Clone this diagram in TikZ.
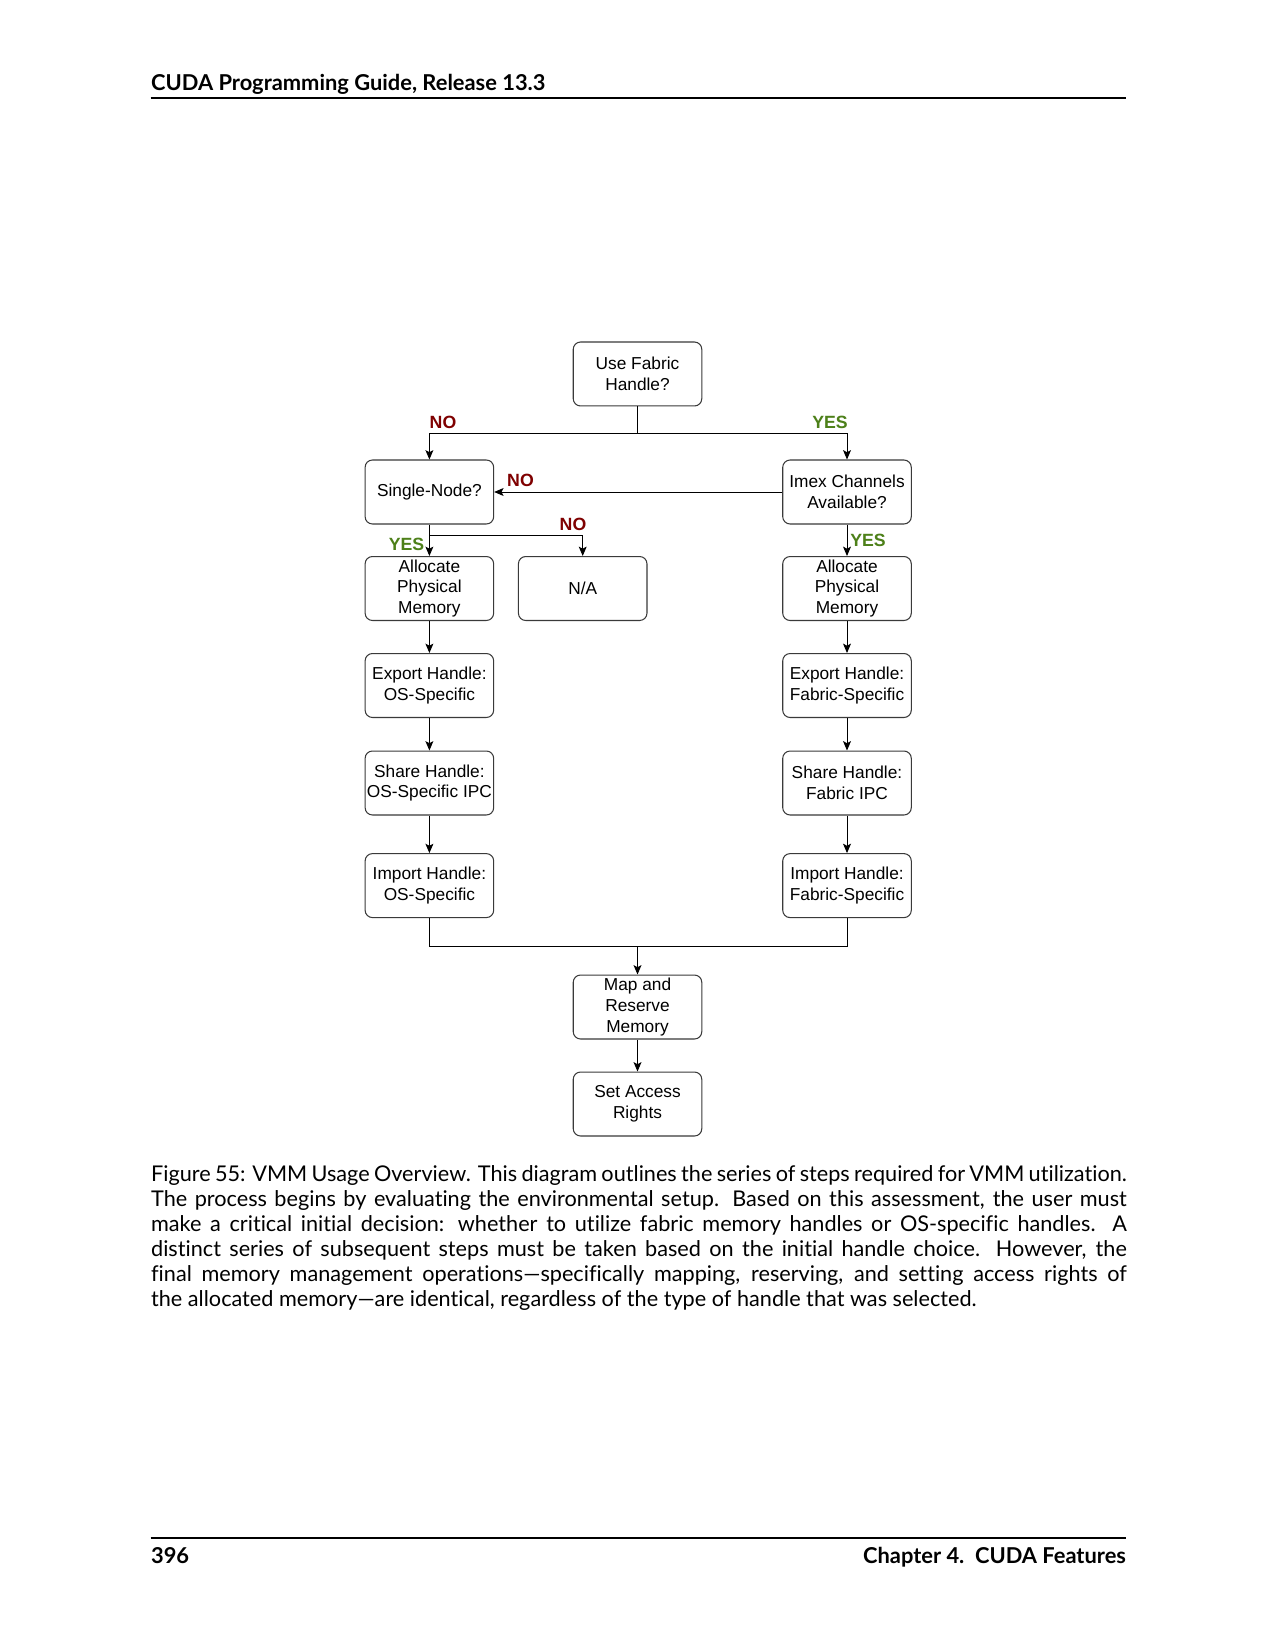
\documentclass[tikz,border=0pt]{standalone}
\usepackage{fontspec}
\setmainfont{Lato}[Ligatures={NoCommon,NoRare}]
\newfontfamily\diagfont{Liberation Sans}
\usetikzlibrary{arrows.meta}
\definecolor{nored}{HTML}{7F0000}
\definecolor{yesgreen}{HTML}{4D8019}
\definecolor{boxline}{HTML}{3A3A3A}
\newcommand\capline[1]{\hbox to 468.3pt{#1}}
\begin{document}
\begin{tikzpicture}[x=0.48pt,y=-0.48pt,
  box/.style={draw=boxline, line width=0.5pt, rounded corners=3.5pt, minimum width=61.7pt, minimum height=30.7pt, inner sep=0pt, align=center, font=\diagfont\fontsize{8.3}{9.9}\selectfont},
  conn/.style={draw=black, line width=0.45pt},
  arr/.style={conn, -{Stealth[length=4.5pt,width=3.8pt,inset=1pt]}},
  nolab/.style={font=\diagfont\bfseries\fontsize{8.5}{10}\selectfont, text=nored, inner sep=0pt},
  yeslab/.style={font=\diagfont\bfseries\fontsize{8.5}{10}\selectfont, text=yesgreen, inner sep=0pt},
  captext/.style={anchor=base west, inner sep=0pt, font=\fontsize{10.4}{12}\selectfont},
  pagetext/.style={inner sep=0pt, font=\bfseries\fontsize{10.5}{12}\selectfont}]
\useasboundingbox[fill=white] (0,0) rectangle (1275,1650);

% header and footer
\node[pagetext, anchor=base west] (hdr) at (150.7,90.8) {CUDA Programming Guide, Release 13.3};
\draw[line width=0.7pt] (150.7,98) coordinate (hl) -- (1126.4,98) coordinate (hr);
\draw[line width=0.7pt] (150.7,1538) coordinate (fl) -- (1126.4,1538) coordinate (fr);
\node[pagetext, anchor=base west] (pnum) at (150.7,1563.5) {396};
\node[pagetext, anchor=base east] (chap) at (1126.4,1563.5) {Chapter 4.\ \ CUDA Features};

% boxes
\node[box] (fab) at (637.5,374) {Use Fabric\\Handle?};
\node[box] (single) at (429.4,492) {Single-Node?};
\node[box] (imex) at (847,492) {Imex Channels\\Available?};
\node[box] (allocL) at (429.4,588.5) {Allocate\\Physical\\Memory};
\node[box] (na) at (582.7,588.5) {N/A};
\node[box] (allocR) at (847,588.5) {Allocate\\Physical\\Memory};
\node[box] (expL) at (429.4,685.5) {Export Handle:\\OS-Specific};
\node[box] (expR) at (847,685.5) {Export Handle:\\Fabric-Specific};
\node[box] (shareL) at (429.4,783) {Share Handle:\\OS-Specific IPC};
\node[box] (shareR) at (847,783) {Share Handle:\\Fabric IPC};
\node[box] (impL) at (429.4,885.6) {Import Handle:\\OS-Specific};
\node[box] (impR) at (847,885.6) {Import Handle:\\Fabric-Specific};
\node[box] (map) at (637.5,1007) {Map and\\Reserve\\Memory};
\node[box] (set) at (637.5,1104) {Set Access\\Rights};

% connectors
\coordinate (s1) at (637.5,433);
\draw[conn] (fab.south) -- (s1);
\draw[arr] (s1) -| (single.north);
\draw[arr] (s1) -| (imex.north);
\draw[arr] (imex.west) -- (single.east);
\coordinate (s2) at (429.4,535.3);
\draw[arr] (single.south) -- (allocL.north);
\draw[arr] (s2) -| (na.north);
\draw[arr] (imex.south) -- (allocR.north);
\draw[arr] (allocL) -- (expL);
\draw[arr] (expL) -- (shareL);
\draw[arr] (shareL) -- (impL);
\draw[arr] (allocR) -- (expR);
\draw[arr] (expR) -- (shareR);
\draw[arr] (shareR) -- (impR);
\coordinate (m1) at (637.5,946);
\draw[conn] (impL.south) |- (m1);
\draw[conn] (impR.south) |- (m1);
\draw[arr] (m1) -- (map.north);
\draw[arr] (map) -- (set);

% labels
\node[nolab] (no1) at (443,422) {NO};
\node[yeslab] (yes1) at (830,422) {YES};
\node[nolab] (no2) at (520.5,480.5) {NO};
\node[nolab] (no3) at (573,524.5) {NO};
\node[yeslab] (yes2) at (406.5,544.5) {YES};
\node[yeslab] (yes3) at (868,540.5) {YES};

% caption
\node[captext] (c1) at (150.7,1181) {\capline{Figure 55: VMM Usage Overview. This diagram outlines the series of steps required for VMM utilization.}};
\node[captext] (c2) at (150.7,1206.1) {\capline{The process begins by evaluating the environmental setup. Based on this assessment, the user must}};
\node[captext] (c3) at (150.7,1231.2) {\capline{make a critical initial decision: whether to utilize fabric memory handles or OS-specific handles. A}};
\node[captext] (c4) at (150.7,1256.3) {\capline{distinct series of subsequent steps must be taken based on the initial handle choice. However, the}};
\node[captext] (c5) at (150.7,1281.4) {\capline{final memory management operations---specifically mapping, reserving, and setting access rights of}};
\node[captext] (c6) at (150.7,1306.5) {the allocated memory---are identical, regardless of the type of handle that was selected.};
\end{tikzpicture}
\end{document}
